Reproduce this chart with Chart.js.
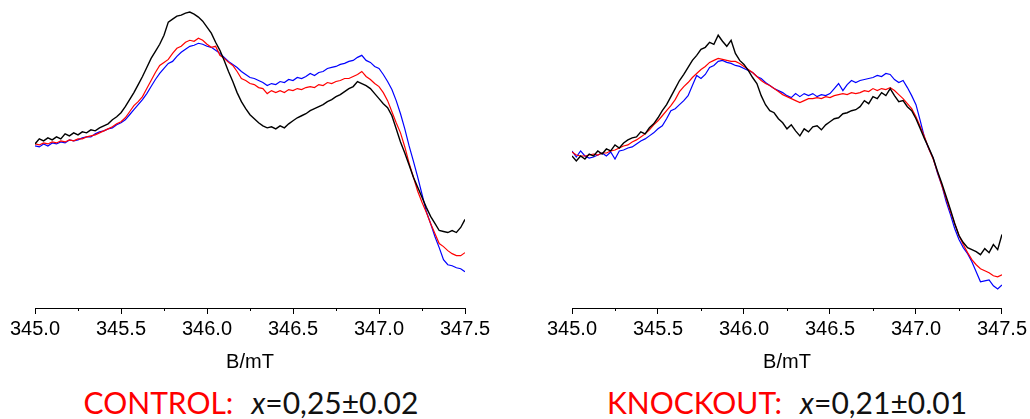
<!DOCTYPE html>
<html>
<head>
<meta charset="utf-8">
<script src="https://cdn.jsdelivr.net/npm/chart.js@4"></script>
<style>
  html, body { margin: 0; padding: 0; background: #fff; overflow: hidden; }
  #wrap { position: relative; width: 1030px; height: 419px; }
  canvas { position: absolute; top: 0; }
  #c1 { left: 0; }
  #c2 { left: 537px; }
  .ttl { position: absolute; top: 387px; font-family: Lato, "Noto Sans", sans-serif; font-size: 30px; line-height: 30px; white-space: nowrap; transform: translateX(-50%); color: #111; }
  .ttl .lab { color: #ff0000; margin-right: 18px; }
  .ttl i { font-style: italic; }
  #t1 { left: 251px; }
  #t2 { left: 787px; }
</style>
</head>
<body>
<div id="wrap">
  <canvas id="c1" width="515" height="374"></canvas>
  <canvas id="c2" width="493" height="374"></canvas>
  <div class="ttl" id="t1"><span class="lab">CONTROL:</span><i>x</i>=0,25±0.02</div>
  <div class="ttl" id="t2"><span class="lab">KNOCKOUT:</span><i>x</i>=0,21±0.01</div>
</div>
<script>
// Field axis (mT)
const fieldStart = 345.0;
const fieldStep = 0.025;
const fieldMin = 345.0;
const fieldMax = 347.5;
const majorStep = 0.5;
const minorStep = 0.25;
const xTitle = 'B/mT';

// EPR signal, arbitrary units — CONTROL
const controlBlack = [0,5,3,6,4,7,5,10,8,11, 9,12,11,14,13,16,18,20,24,27, 31,37,44,51,59,67,76,85,92,99, 108,121,124,127,128,130,131,129,126,122, 116,110,101,93,83,72,62,51,42,35, 29,25,21,18,16,17,15,18,16,20, 23,26,28,30,33,35,37,39,42,44, 47,49,52,55,57,62,60,58,55,50, 45,40,36,28,15,2,-9,-21,-33,-43, -53,-63,-72,-79,-86,-87,-88,-86,-88,-83, -75];
const controlRed = [0,-1,1,0,2,1,3,2,4,3, 5,5,7,8,9,11,13,15,17,20, 22,26,32,38,42,47,55,63,71,78, 81,84,90,95,97,101,103,102,105,103, 99,96,97,88,85,81,78,72,65,63, 60,59,56,55,50,53,51,53,51,54, 53,55,54,56,57,56,59,58,61,60, 62,63,65,65,67,69,72,67,64,60, 57,51,43,32,21,11,-3,-19,-33,-47, -58,-68,-79,-89,-99,-102,-106,-109,-111,-111, -108];
const controlBlue = [-2,-3,0,-2,1,0,2,1,4,3, 4,6,7,7,10,12,13,15,16,19, 21,24,29,34,39,44,50,57,64,70, 75,80,82,87,91,94,97,98,100,99, 97,96,93,90,86,82,79,76,72,69, 66,65,63,61,58,60,59,62,61,64, 63,66,65,67,70,68,71,72,75,76, 77,79,80,82,83,86,88,83,81,77, 75,69,62,54,43,30,15,-2,-17,-33, -50,-67,-79,-92,-103,-115,-120,-121,-123,-124, -127];

// EPR signal, arbitrary units — KNOCKOUT
const knockoutBlack = [-12,-17,-12,-15,-10,-12,-7,-10,-5,-7, -1,-4,1,4,6,7,12,10,16,20, 26,33,39,47,55,63,69,76,83,88, 94,96,101,99,108,102,97,103,90,83, 79,73,66,60,48,39,33,31,25,21, 15,19,13,8,15,12,17,18,14,19, 22,25,26,30,31,33,34,37,43,40, 47,45,51,48,55,48,42,43,37,33, 25,15,5,-4,-14,-27,-39,-52,-65,-79, -91,-98,-103,-105,-107,-110,-104,-108,-100,-105, -90];
const knockoutRed = [-8,-11,-12,-12,-11,-10,-11,-9,-9,-7, -6,-4,-2,-1,2,4,7,10,14,19, 23,28,33,38,44,52,57,61,66,70, 74,77,81,83,85,84,83,82,82,80, 77,74,71,67,63,60,58,55,52,49, 47,45,43,41,43,45,45,46,45,47, 46,48,49,50,49,51,50,51,53,52, 55,53,55,54,56,53,49,45,40,35, 27,17,7,-5,-15,-28,-41,-54,-67,-79, -91,-100,-108,-115,-120,-124,-126,-128,-131,-132, -130];
const knockoutBlue = [-7,-13,-7,-12,-14,-13,-11,-9,-12,-8, -15,-7,-6,-4,-3,0,3,5,8,11, 15,18,25,33,35,39,43,48,58,68, 65,69,76,78,82,83,81,80,78,77, 75,73,71,67,65,61,58,55,53,51, 48,46,50,47,50,48,50,47,49,48, 50,55,60,53,59,63,61,63,64,65, 66,68,67,70,69,64,61,63,56,48, 39,23,6,-5,-14,-29,-41,-57,-70,-84, -95,-103,-109,-117,-127,-137,-136,-135,-141,-144, -140];

// Hidden intensity axis range (a.u.)
const signalMin = -163;
const signalMax = 143;

const seriesColors = { black: '#000000', red: '#ff0000', blue: '#0000ff' };

function toPoints(vals) {
  return vals.map((v, i) => ({ x: +(fieldStart + i * fieldStep).toFixed(3), y: v }));
}

const minorTicks = {
  id: 'minorTicks',
  afterDraw(chart) {
    const s = chart.scales.x, ctx = chart.ctx;
    ctx.save();
    ctx.strokeStyle = '#000';
    ctx.lineWidth = 1;
    for (let v = fieldMin + minorStep; v < fieldMax; v += majorStep) {
      const px = Math.round(s.getPixelForValue(v)) + 0.5;
      ctx.beginPath();
      ctx.moveTo(px, s.top);
      ctx.lineTo(px, s.top + 3);
      ctx.stroke();
    }
    ctx.restore();
  }
};

function makeChart(id, black, red, blue, padRight) {
  const ds = (vals, color, w) => ({
    data: toPoints(vals), borderColor: color, borderWidth: w,
    pointRadius: 0, tension: 0, fill: false
  });
  return new Chart(document.getElementById(id), {
    type: 'line',
    data: { datasets: [ds(black, seriesColors.black, 1.4), ds(red, seriesColors.red, 1.2), ds(blue, seriesColors.blue, 1.2)] },
    options: {
      responsive: false,
      animation: false,
      events: [],
      layout: { padding: { left: 35, right: padRight, top: 0, bottom: 0 } },
      plugins: { legend: { display: false }, tooltip: { enabled: false }, title: { display: false } },
      scales: {
        x: {
          type: 'linear', min: fieldMin, max: fieldMax,
          border: { display: true, color: '#000', width: 1 },
          grid: { display: true, drawOnChartArea: false, drawTicks: true, tickLength: 6, color: '#000', tickColor: '#000' },
          ticks: { stepSize: majorStep, padding: 3, color: '#000', font: { family: 'Liberation Sans', size: 20 },
                   maxRotation: 0, autoSkip: false, callback: v => Number(v).toFixed(1) },
          title: { display: true, text: xTitle, color: '#000', font: { family: 'Liberation Sans', size: 20 }, padding: { top: 6, bottom: 0 } }
        },
        y: { display: false, min: signalMin, max: signalMax }
      }
    },
    plugins: [minorTicks]
  });
}

makeChart('c1', controlBlack, controlRed, controlBlue, 50);
makeChart('c2', knockoutBlack, knockoutRed, knockoutBlue, 28);
</script>
</body>
</html>
